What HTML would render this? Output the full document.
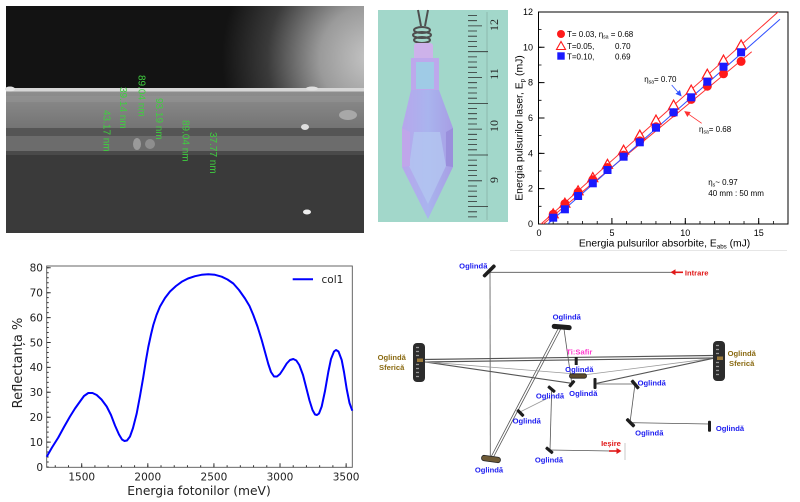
<!DOCTYPE html>
<html><head><meta charset="utf-8"><style>
html,body{margin:0;padding:0;background:#fff;width:800px;height:502px;overflow:hidden}
svg{display:block}
</style></head><body>
<svg width="800" height="502" viewBox="0 0 800 502" xmlns="http://www.w3.org/2000/svg" font-family="'Liberation Sans', Arial, sans-serif">
<defs>
<radialGradient id="glow" gradientUnits="userSpaceOnUse" cx="372" cy="58" r="150">
<stop offset="0" stop-color="#c6c6c6"/>
<stop offset="0.35" stop-color="#9a9a9a"/>
<stop offset="0.7" stop-color="#3a3a3a"/>
<stop offset="1" stop-color="#131313"/>
</radialGradient>
<linearGradient id="band" x1="0" y1="91" x2="0" y2="128" gradientUnits="userSpaceOnUse">
<stop offset="0" stop-color="#8e8e8e"/><stop offset="1" stop-color="#747474"/>
</linearGradient>
<linearGradient id="crys" x1="402" y1="0" x2="454" y2="0" gradientUnits="userSpaceOnUse">
<stop offset="0" stop-color="#b7a6ec"/><stop offset="0.5" stop-color="#a9b4ee"/><stop offset="1" stop-color="#a79de4"/>
</linearGradient>
<clipPath id="c1"><rect x="538.5" y="12" width="249.5" height="212"/></clipPath>
<marker id="ab" markerWidth="6" markerHeight="6" refX="5" refY="3" orient="auto" markerUnits="userSpaceOnUse"><path d="M0,0 L6,3 L0,6 z" fill="#3050ff"/></marker>
<marker id="ar" markerWidth="6" markerHeight="6" refX="5" refY="3" orient="auto" markerUnits="userSpaceOnUse"><path d="M0,0 L6,3 L0,6 z" fill="#ff3030"/></marker>
</defs>

<!-- ================= SEM image ================= -->
<rect x="6" y="6" width="358" height="84" fill="url(#glow)"/>
<rect x="6" y="88" width="358" height="3.5" fill="#d6d6d6"/>
<rect x="6" y="91.5" width="358" height="37" fill="url(#band)"/>
<rect x="6" y="128" width="358" height="8" fill="#555"/>
<rect x="6" y="136" width="358" height="15" fill="#6c6c6c"/>
<rect x="6" y="151" width="358" height="4" fill="#4a4a4a"/>
<rect x="6" y="155" width="358" height="78" fill="#3a3a3a"/>
<rect x="6" y="96" width="358" height="6" fill="#959595" opacity="0.5"/>
<ellipse cx="10" cy="89" rx="5" ry="2.5" fill="#e4e4e4"/>
<ellipse cx="312" cy="88.5" rx="6" ry="2" fill="#e0e0e0"/>
<ellipse cx="348" cy="115" rx="9" ry="5" fill="#a8a8a8"/>
<ellipse cx="305" cy="127" rx="4" ry="3" fill="#dedede"/>
<ellipse cx="307" cy="212" rx="4" ry="2.5" fill="#eee"/>
<ellipse cx="137" cy="144" rx="4" ry="6" fill="#9a9a9a"/>
<ellipse cx="150" cy="144" rx="5" ry="5" fill="#8e8e8e"/>
<g fill="#3fcf3f" font-size="10">
<text x="138.5" y="75" transform="rotate(90 138.5 75)">89.04 nm</text>
<text x="120" y="87" transform="rotate(90 120 87)">39.14 nm</text>
<text x="103.5" y="110" transform="rotate(90 103.5 110)">43.17 nm</text>
<text x="156" y="98" transform="rotate(90 156 98)">93.19 nm</text>
<text x="182.5" y="120" transform="rotate(90 182.5 120)">89.04 nm</text>
<text x="210" y="132" transform="rotate(90 210 132)">37.77 nm</text>
</g>

<!-- ================= Photo ================= -->
<rect x="378" y="10" width="130" height="212" fill="#a2d7ca"/>
<!-- ruler -->
<line x1="487" y1="12" x2="487" y2="220" stroke="#7fa79b" stroke-width="0.6"/>
<g stroke="#2a2a2a" stroke-width="0.8">
<path d="M468,15.5h9M468,20.7h9M468,25.9h14M468,31h9M468,36.2h9M468,41.4h9M468,46.6h9M468,51.7h20M468,56.9h9M468,62h9M468,67.2h9M468,72.4h9M468,77.5h14M468,82.7h9M468,87.9h9M468,93h9M468,98.2h9M468,103.4h20M468,108.5h9M468,113.7h9M468,118.8h9M468,124h9M468,129.1h14M468,134.3h9M468,139.5h9M468,144.6h9M468,149.8h9M468,155h20M468,160.1h9M468,165.3h9M468,170.5h9M468,175.6h9M468,180.8h14M468,186h9M468,191.1h9M468,196.3h9M468,201.5h9M468,206.6h20M468,211.8h9M468,216.9h9"/>
</g>
<g fill="#222" font-family="'Liberation Serif', serif" font-size="12" text-anchor="middle">
<text x="498" y="25" transform="rotate(-90 498 25)">12</text>
<text x="498" y="74" transform="rotate(-90 498 74)">11</text>
<text x="498" y="126" transform="rotate(-90 498 126)">10</text>
<text x="498" y="180" transform="rotate(-90 498 180)">9</text>
</g>
<!-- crystal -->
<g fill="none" stroke="#4e4e4e" stroke-width="2">
<path d="M418,10 L421,26"/><path d="M428,10 L425,26"/>
<ellipse cx="422" cy="30" rx="8" ry="3"/>
<ellipse cx="422" cy="35" rx="9" ry="3"/>
<ellipse cx="422" cy="40" rx="8" ry="3"/>
</g>
<rect x="414" y="43" width="19" height="17" rx="3" fill="#cdb2ea"/>
<rect x="411" y="58" width="28" height="33" fill="#bda8ec"/>
<rect x="416" y="62" width="18" height="27" fill="#9fcbe6"/>
<polygon points="411,90 439,90 453,128 453,167 428,219 402,167 402,128" fill="url(#crys)"/>
<polygon points="414,132 440,132 446,166 428,204 409,166" fill="#b3c6f0" opacity="0.8"/>
<polygon points="402,128 410,132 410,166 402,167" fill="#c0a6ea"/>
<polygon points="446,132 453,128 453,167 446,166" fill="#9a8fdc"/>

<!-- ================= Top-right chart ================= -->
<rect x="538.5" y="12" width="249.5" height="212" fill="#fff" stroke="#000" stroke-width="1"/>
<g stroke="#000" stroke-width="1">
<line x1="538.1" y1="222.5" x2="788" y2="222.5" stroke-width="3" stroke-dasharray="0.8 13.88"/>
<line x1="540" y1="224.4" x2="540" y2="12" stroke-width="3" stroke-dasharray="0.8 16.87"/>
<path d="M538.5,224v-6M611.9,224v-6M685.3,224v-6M758.7,224v-6M538.5,188.66h6M538.5,153.32h6M538.5,117.98h6M538.5,82.64h6M538.5,47.3h6"/>
</g>
<g font-size="9" fill="#000" text-anchor="end">
<text x="533" y="227">0</text><text x="533" y="191.7">2</text><text x="533" y="156.3">4</text><text x="533" y="121">6</text><text x="533" y="85.6">8</text><text x="533" y="50.3">10</text><text x="533" y="15">12</text>
</g>
<g font-size="9" fill="#000" text-anchor="middle">
<text x="539" y="236">0</text><text x="612" y="236">5</text><text x="685.3" y="236">10</text><text x="758.7" y="236">15</text>
</g>
<text x="664.5" y="246.5" font-size="10.3" text-anchor="middle">Energia pulsurilor absorbite, E<tspan font-size="6.2" dy="2">abs</tspan><tspan dy="-2"> (mJ)</tspan></text>
<text x="522.5" y="128" font-size="10.4" text-anchor="middle" transform="rotate(-90 522.5 128)">Energia pulsurilor laser, E<tspan font-size="6.2" dy="2">p</tspan><tspan dy="-2"> (mJ)</tspan></text>
<g clip-path="url(#c1)" fill="none" stroke-width="1">
<line x1="541" y1="224" x2="778.3" y2="11.7" stroke="#ff3030"/>
<line x1="543.3" y1="224" x2="751.7" y2="51.7" stroke="#ff3030"/>
<line x1="547.7" y1="224" x2="780" y2="19.3" stroke="#3050ff"/>
</g>
<g fill="#fff" stroke="#ff1a1a" stroke-width="1.2">
<path d="M553.2,208.8l-5,9h10zM564.9,198.2l-5,9h10zM578.1,185.8l-5,9h10zM592.8,172.6l-5,9h10zM607.5,159.3l-5,9h10zM623.6,145.2l-5,9h10zM639.8,130.15l-5,9h10zM656,115.1l-5,9h10zM673.6,100.1l-5,9h10zM691.2,85.1l-5,9h10zM707.3,69.2l-5,9h10zM723.5,55.1l-5,9h10zM741.1,40l-5,9h10z"/>
</g>
<g fill="#ff1a1a">
<circle cx="553.2" cy="214.3" r="4.5"/><circle cx="564.9" cy="203.7" r="4.5"/><circle cx="578.1" cy="192.2" r="4.5"/><circle cx="592.8" cy="179.8" r="4.5"/><circle cx="607.5" cy="167.5" r="4.5"/><circle cx="623.6" cy="155.1" r="4.5"/><circle cx="639.8" cy="140.9" r="4.5"/><circle cx="656" cy="126.8" r="4.5"/><circle cx="673.6" cy="112.7" r="4.5"/><circle cx="691.2" cy="99.4" r="4.5"/><circle cx="707.3" cy="86.2" r="4.5"/><circle cx="723.5" cy="73.8" r="4.5"/><circle cx="741.1" cy="61.4" r="4.5"/>
</g>
<g fill="#1a1aff">
<rect x="549.2" y="213.7" width="8" height="8"/><rect x="560.9" y="205.3" width="8" height="8"/><rect x="574.1" y="192" width="8" height="8"/><rect x="588.8" y="179.3" width="8" height="8"/><rect x="603.5" y="166" width="8" height="8"/><rect x="619.6" y="152.7" width="8" height="8"/><rect x="635.8" y="138.3" width="8" height="8"/><rect x="652" y="123.7" width="8" height="8"/><rect x="669.6" y="108.3" width="8" height="8"/><rect x="687.2" y="93.3" width="8" height="8"/><rect x="703.3" y="77.7" width="8" height="8"/><rect x="719.5" y="62.7" width="8" height="8"/><rect x="737.1" y="48.3" width="8" height="8"/>
</g>
<!-- legend -->
<circle cx="561" cy="34" r="4" fill="#ff1a1a"/>
<path d="M561,41.5l-4.5,8h9z" fill="#fff" stroke="#ff1a1a" stroke-width="1.1"/>
<rect x="557.3" y="52.3" width="7.4" height="7.4" fill="#1a1aff"/>
<g font-size="8" fill="#000">
<text x="567" y="37">T= 0.03, η<tspan font-size="5" dy="1.5">sa</tspan><tspan dy="-1.5"> = 0.68</tspan></text>
<text x="567" y="49">T=0.05,</text><text x="615" y="49">0.70</text>
<text x="567" y="59.5">T=0.10,</text><text x="615" y="59.5">0.69</text>
<text x="644.3" y="82">η<tspan font-size="5" dy="1.5">sa</tspan><tspan dy="-1.5">= 0.70</tspan></text>
<text x="699" y="132">η<tspan font-size="5" dy="1.5">sa</tspan><tspan dy="-1.5">= 0.68</tspan></text>
<text x="708.3" y="185">η<tspan font-size="5" dy="1.5">s</tspan><tspan dy="-1.5">~ 0.97</tspan></text>
<text x="708.3" y="196">40 mm : 50 mm</text>
</g>
<line x1="671.7" y1="85" x2="681" y2="95.7" stroke="#3050ff" stroke-width="0.8" marker-end="url(#ab)"/>
<line x1="701.7" y1="123.3" x2="685" y2="111.7" stroke="#ff3030" stroke-width="0.8" marker-end="url(#ar)"/>

<!-- ================= Bottom-left chart ================= -->
<rect x="46.7" y="266" width="305.6" height="201.3" fill="none" stroke="#555" stroke-width="0.9"/>
<g stroke="#333">
<line x1="54.76" y1="466.3" x2="352" y2="466.3" stroke-width="2" stroke-dasharray="1 12.22"/>
<line x1="47.7" y1="467.5" x2="47.7" y2="266" stroke-width="2" stroke-dasharray="1 3.98"/>
<path stroke-width="1" d="M81.7,467.3v-4M147.81,467.3v-4M213.92,467.3v-4M280.03,467.3v-4M346.14,467.3v-4M46.7,442.1h4M46.7,417.2h4M46.7,392.3h4M46.7,367.4h4M46.7,342.5h4M46.7,317.6h4M46.7,292.7h4M46.7,267.8h4"/>
</g>
<g font-family="'DejaVu Sans', sans-serif" font-size="10.5" fill="#222" text-anchor="end">
<text x="43" y="470.8">0</text><text x="43" y="445.9">10</text><text x="43" y="421">20</text><text x="43" y="396.1">30</text><text x="43" y="371.2">40</text><text x="43" y="346.3">50</text><text x="43" y="321.4">60</text><text x="43" y="296.5">70</text><text x="43" y="271.6">80</text>
</g>
<g font-family="'DejaVu Sans', sans-serif" font-size="10.5" fill="#222" text-anchor="middle">
<text x="81.7" y="480.5">1500</text><text x="147.8" y="480.5">2000</text><text x="213.9" y="480.5">2500</text><text x="280" y="480.5">3000</text><text x="346.1" y="480.5">3500</text>
</g>
<text x="199" y="495" font-family="'DejaVu Sans', sans-serif" font-size="12.3" fill="#222" text-anchor="middle">Energia fotonilor (meV)</text>
<text x="22" y="363" font-family="'DejaVu Sans', sans-serif" font-size="13" fill="#222" text-anchor="middle" transform="rotate(-90 22 363)">Reflectanța %</text>
<polyline fill="none" stroke="#0000ff" stroke-width="2" stroke-linejoin="round" points="46.7,456.7 52,447.5 58.3,437.5 64,427 70,416.5 75,408.5 80,401.5 84,396 88.3,393 92.5,393 96.7,395 101.5,399.5 106.7,406.5 111,415 115,425.5 119,434.5 122,439.5 124.5,441 127,440.5 130,436.5 133,428 136.7,413.5 140,396 143.3,377 146,360 148.3,347 151,334.5 153.3,325 156.5,315 160,306.5 165,298 170,291.5 176,286 181.7,281.8 188,278.5 195,276.2 201.5,274.8 208.3,274.3 215,274.8 221.7,276.7 227.5,279.5 233.3,283.5 239,290 245,298.5 249.5,306 253.3,315 257.5,326.5 261.7,340 265,352 268.3,364 271,372 274,376.5 277,376.5 280,374 283,369.5 286.7,363.5 290,360 293.3,359 296.3,360.5 299.3,365 303,375 306.7,389.5 309.5,400.5 312.5,410 315,414.5 317,415 319,413.5 321.7,406.5 325,391 328.3,372 331,359 334,351.5 336,350 338.5,351.5 341.7,360 344,372 346.7,389 349.5,403 352.3,410.7"/>
<line x1="292.7" y1="279.3" x2="313" y2="279.3" stroke="#0000ff" stroke-width="2"/>
<text x="321.5" y="283" font-family="'DejaVu Sans', sans-serif" font-size="10.5" fill="#222">col1</text>

<!-- ================= Bottom-right diagram ================= -->
<line x1="510" y1="250.5" x2="787" y2="250.5" stroke="#e6e6e6" stroke-width="1"/>
<g stroke="#555" stroke-width="0.8" fill="none">
<line x1="490" y1="272.3" x2="672" y2="272.3"/>
<line x1="490" y1="272.3" x2="490.3" y2="457"/>
<line x1="491" y1="457" x2="558.5" y2="328"/>
<line x1="493.5" y1="457" x2="561" y2="328.5"/>
<line x1="564" y1="329" x2="571.7" y2="383"/>
<line x1="423" y1="359.5" x2="713" y2="355.5" stroke-width="1.2"/>
<line x1="423" y1="362" x2="713" y2="358" stroke-width="1.2"/>
<line x1="423.3" y1="361.7" x2="571.7" y2="383.3" stroke-width="1.1"/>
<line x1="423.3" y1="361.7" x2="570" y2="373.5" stroke="#999"/>
<line x1="713.3" y1="358.3" x2="583.3" y2="375" stroke="#999"/>
<line x1="713.3" y1="358.3" x2="596.7" y2="383.3" stroke-width="1.1"/>
<line x1="595" y1="384" x2="635" y2="384"/>
<line x1="635" y1="384" x2="630" y2="422.7"/>
<line x1="630" y1="422.7" x2="709.3" y2="424"/>
<line x1="551.7" y1="389.3" x2="550" y2="450"/>
<line x1="550" y1="450" x2="611" y2="451"/>
<line x1="520" y1="412" x2="550" y2="397" stroke="#999"/>
<line x1="625" y1="443" x2="625" y2="460" stroke="#bbb"/>
</g>
<!-- red arrows -->
<line x1="683" y1="272.3" x2="674" y2="272.3" stroke="#e01818" stroke-width="1.6"/>
<path d="M670.5,272.3 l5,-3 v6z" fill="#e01818"/>
<line x1="609" y1="451" x2="617" y2="451" stroke="#e01818" stroke-width="1.6"/>
<path d="M621.5,451 l-5,-3 v6z" fill="#e01818"/>
<!-- mirrors -->
<g fill="#1e1e1e">
<rect x="481" y="269.2" width="16.5" height="3.6" rx="1.5" transform="rotate(-45 489.2 271)"/>
<rect x="551.7" y="324.5" width="20" height="5" rx="2.5" transform="rotate(5 561.7 327)"/>
<rect x="574.7" y="357" width="3" height="8"/>
<rect x="568" y="382.3" width="8" height="3.2" rx="1" transform="rotate(-50 571.7 384)"/>
<rect x="593.5" y="378" width="3" height="11" rx="1"/>
<rect x="630" y="382.5" width="11" height="3.4" rx="1" transform="rotate(50 635 384)"/>
<rect x="625" y="421" width="11" height="3.4" rx="1" transform="rotate(45 630.5 422.7)"/>
<rect x="708" y="420.7" width="3" height="11" rx="1"/>
<rect x="547" y="387.7" width="9" height="3.2" rx="1" transform="rotate(40 551.7 389.3)"/>
<rect x="545" y="448.4" width="9" height="3.2" rx="1" transform="rotate(40 549 450)"/>
<rect x="516" y="411" width="9" height="3.2" rx="1" transform="rotate(45 520 412.7)"/>
</g>
<rect x="569.5" y="373.8" width="17" height="4.4" rx="2" fill="#5c4a2c" stroke="#222" stroke-width="0.8"/>
<rect x="481.5" y="456.3" width="19" height="5.4" rx="2.6" fill="#6e5a36" stroke="#222" stroke-width="0.8" transform="rotate(8 491 459)"/>
<!-- spherical mirrors -->
<rect x="413" y="343" width="12" height="39" rx="4" fill="#2c2c2c"/>
<rect x="713" y="341" width="12" height="40" rx="4" fill="#2c2c2c"/>
<g stroke="#9a9a9a" stroke-width="1.2">
<path d="M416,347.5h3M416,351.5h3M416,355.5h3M416,364.5h3M416,368.5h3M416,372.5h3M416,376.5h3"/>
<path d="M716,345.5h3M716,349.5h3M716,353.5h3M716,362.5h3M716,366.5h3M716,370.5h3M716,374.5h3"/>
</g>
<rect x="417" y="358.5" width="6" height="3.5" fill="#9b7a3a"/>
<rect x="717" y="356.5" width="6" height="3.5" fill="#9b7a3a"/>
<!-- labels -->
<g font-weight="bold" font-size="7.6" fill="#1c1cf0" text-anchor="middle">
<text x="473.3" y="268.3">Oglindă</text>
<text x="489" y="472.6">Oglindă</text>
<text x="566.7" y="319.3">Oglindă</text>
<text x="579.3" y="371.9">Oglindă</text>
<text x="583.3" y="395.9">Oglindă</text>
<text x="550" y="398.3">Oglindă</text>
<text x="526.7" y="423.3">Oglindă</text>
<text x="651.7" y="385.3">Oglindă</text>
<text x="649.3" y="435.3">Oglindă</text>
<text x="730" y="430.9">Oglindă</text>
<text x="549" y="462.6">Oglindă</text>
</g>
<g font-weight="bold" font-size="7.6" fill="#8a6a12" text-anchor="middle">
<text x="391.7" y="359.9">Oglindă</text><text x="391.7" y="369.9">Sferică</text>
<text x="741.7" y="355.9">Oglindă</text><text x="741.7" y="365.9">Sferică</text>
</g>
<text x="579.3" y="354.3" font-weight="bold" font-size="7.6" fill="#ff3ccf" text-anchor="middle">Ti:Safir</text>
<text x="696.7" y="275.3" font-weight="bold" font-size="7.6" fill="#e01818" text-anchor="middle">Intrare</text>
<text x="611" y="445.9" font-weight="bold" font-size="7.6" fill="#e01818" text-anchor="middle">Ieșire</text>
</svg>
</body></html>
